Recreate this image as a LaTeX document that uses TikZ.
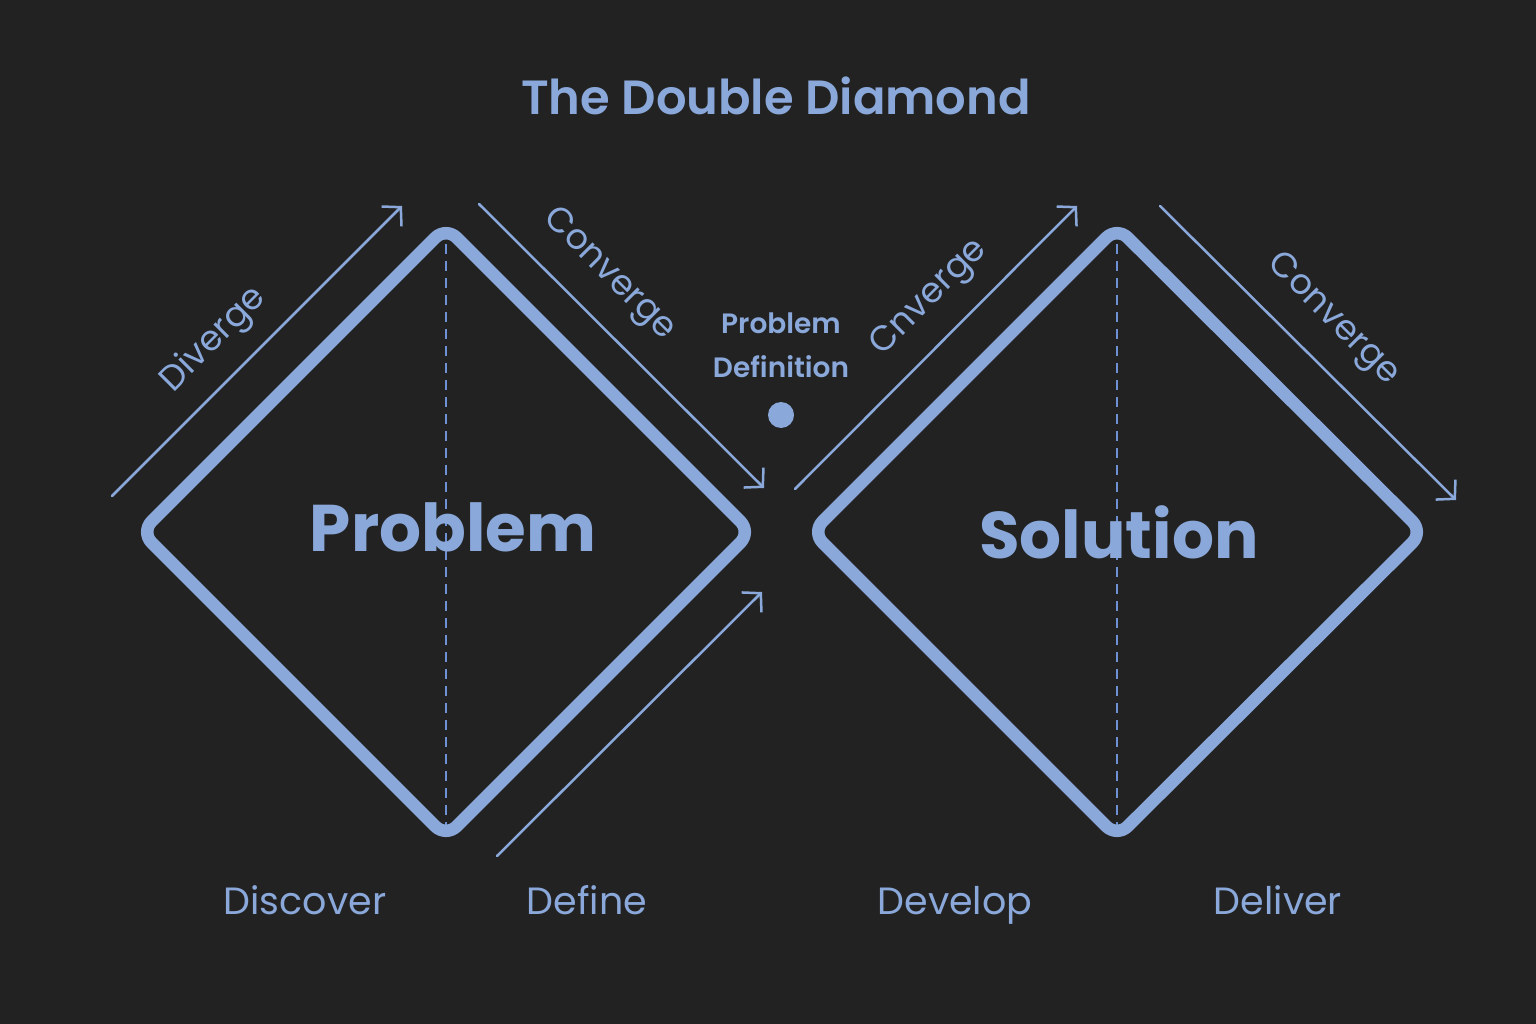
\documentclass[tikz,border=0pt]{standalone}
\usepackage{fontspec}
\setmainfont{Poppins}
\newfontfamily\semibold{Poppins SemiBold}
\usetikzlibrary{arrows.meta}
\definecolor{bgdark}{HTML}{222222}
\definecolor{ddblue}{HTML}{8AA8DA}
\definecolor{dashblue}{HTML}{6E90D4}
\newcommand{\fsz}[2]{\fontsize{#1}{#2}\selectfont}

\begin{document}
\begin{tikzpicture}[x=1pt,y=-1pt,
    outline/.style={draw=ddblue, line width=12.5pt, rounded corners=15pt, line join=round},
    midline/.style={draw=dashblue, line width=1.5pt, dash pattern=on 10pt off 7pt},
    flow/.style={draw=ddblue, line width=2.5pt, line cap=round,
      -{Straight Barb[length=13pt,width=28pt,line width=2.5pt]}},
    phase/.style={text=ddblue, font=\fsz{35}{40}, inner sep=0pt},
    stage/.style={text=ddblue, font=\fsz{38}{44}, inner sep=0pt, anchor=base},
    big/.style={text=ddblue, font=\bfseries\fsz{66}{76}, inner sep=0pt}]
        % background and frame
        \fill[bgdark] (0,0) rectangle (1536,1024);
        \useasboundingbox (0,0) rectangle (1536,1024);
        \node[text=ddblue, font=\semibold\fsz{48}{56}] (title) at (776,96) {The Double Diamond};
        % problem diamond
        \coordinate (pT) at (446,227);
        \coordinate (pR) at (751,532);
        \coordinate (pB) at (446,837);
        \coordinate (pL) at (141,532);
        \draw[midline] (pT) -- (pB);
        \draw[outline] (pT) -- (pR) -- (pB) -- (pL) -- cycle;
        \node[big] (problem) at (453,527) {Problem};
        % solution diamond
        \coordinate (sT) at (1117,227);
        \coordinate (sR) at (1423,532);
        \coordinate (sB) at (1117,837);
        \coordinate (sL) at (812,532);
        \draw[midline] (sT) -- (sB);
        \draw[outline] (sT) -- (sR) -- (sB) -- (sL) -- cycle;
        \node[big] (solution) at (1119,532) {Solution};
        % arrows
        \coordinate (divA) at (112,496);
        \coordinate (divB) at (402,206);
        \coordinate (conA) at (479,204);
        \coordinate (conB) at (764,488);
        \coordinate (defA) at (497,856);
        \coordinate (defB) at (762,592);
        \coordinate (cnvA) at (795,489);
        \coordinate (cnvB) at (1077,206);
        \coordinate (delA) at (1160,206);
        \coordinate (delB) at (1456,500);
        \draw[flow] (divA) -- (divB);
        \draw[flow] (conA) -- (conB);
        \draw[flow] (defA) -- (defB);
        \draw[flow] (cnvA) -- (cnvB);
        \draw[flow] (delA) -- (delB);
        \node[phase, rotate=45] (diverge) at (214,340) {Diverge};
        \node[phase, rotate=-45] (converge1) at (609,275) {Converge};
        \node[phase, rotate=45] (converge2) at (930,298) {Cnverge};
        \node[phase, rotate=-45] (converge3) at (1333,320) {Converge};
        % problem definition
        \node[text=ddblue, font=\semibold\fsz{28}{44}, align=center] (probdef) at (781,345) {Problem\\Definition};
        \fill[ddblue] (781,415) circle (13);
        % stages
        \node[stage] (discover) at (305,914) {Discover};
        \node[stage] (define) at (587,914) {Define};
        \node[stage] (develop) at (955,914) {Develop};
        \node[stage] (deliver) at (1278,914) {Deliver};
\end{tikzpicture}
\end{document}
